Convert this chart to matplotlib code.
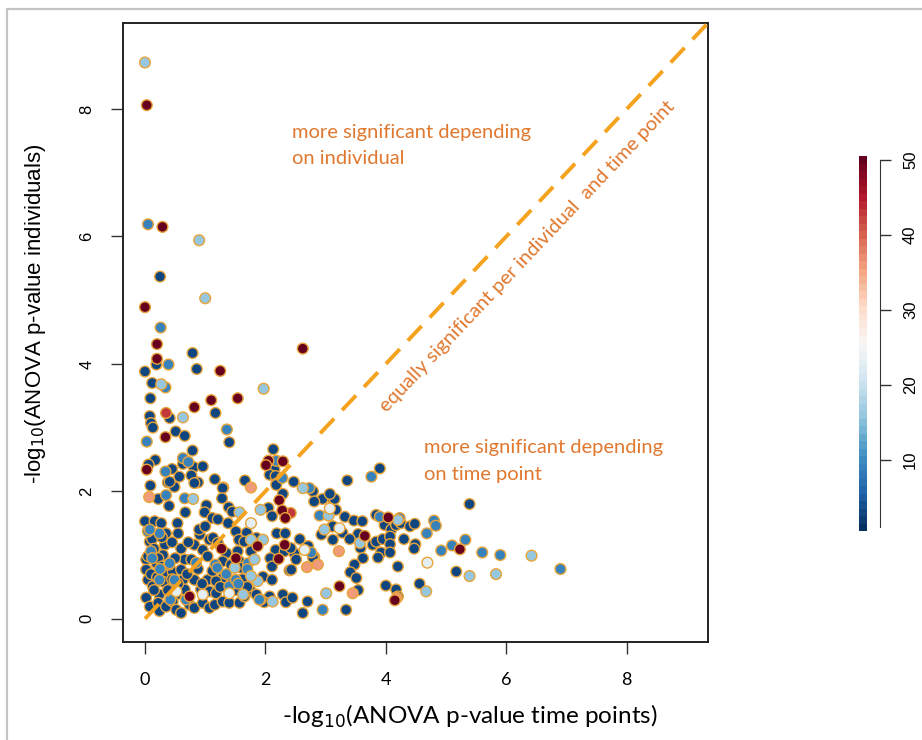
import numpy as np
import matplotlib
matplotlib.use("Agg")
import matplotlib.pyplot as plt

# ---------------- data (x = -log10 p time points, y = -log10 p individuals) -------------
navy_x = [0.25, 0.19, 0.79, 0.86, 0.0, 0.12, 0.09, 1.17, 0.41, 0.08, 0.10, 0.13, 0.51, 0.66, 1.40,
          0.79, 2.13, 0.17, 0.06, 0.45, 0.63, 0.81, 0.96, 0.57, 0.77, 0.88, 0.38, 1.16, 1.30, 0.49,
          1.66, 2.15, 2.07, 2.17, 2.18, 2.47,
          0.09, 0.41, 0.82, 1.29, 2.18, 2.79, 0.22, 1.28, 2.29, 2.95, 3.12, 0.40, 1.02, 1.39, 0.99,
          0.67, 1.45, 2.05, 2.81, 3.17, 1.12, 1.21, 2.11, 0.0, 0.16, 0.27, 0.54, 1.38, 0.35, 0.55,
          1.51, 1.69, 2.19, 2.33, 3.11, 0.08, 0.33, 0.82, 0.91, 1.07, 1.13, 1.21, 1.56, 1.65, 1.85,
          1.35, 1.54, 1.76, 2.17, 2.32, 2.48, 0.19, 0.02, 0.30, 0.19, 0.66, 0.77, 0.96, 1.04, 1.29,
          1.43, 1.57, 2.08, 2.51, 2.81, 1.60, 0.02, 0.35, 0.46, 0.60, 0.05, 0.63, 0.82, 1.04, 1.29,
          1.18, 1.96, 2.11, 2.40, 2.11, 0.13, 0.41, 0.66, 0.93, 1.07, 1.18, 1.76, 0.24, 0.52, 0.02,
          2.07, 2.29, 0.08, 0.22, 0.24, 0.35, 0.46, 0.52, 0.60, 0.74, 0.82, 0.96, 1.07, 1.16, 1.29,
          1.40, 1.57, 1.65, 1.98, 2.34, 2.45, 2.70, 2.62,
          3.90, 3.36, 5.39, 3.15, 3.32, 3.47, 3.61, 3.12, 3.84, 3.98, 4.09, 4.17, 4.25, 4.40, 4.48,
          3.28, 3.54, 3.40, 3.12, 3.78, 3.84, 3.95, 4.07, 4.07, 4.30, 4.49, 4.47, 3.58, 3.62, 3.92,
          4.07, 3.87, 3.48, 3.41, 3.51, 4.20, 5.17, 4.00, 4.17, 4.20, 4.56, 3.54, 3.34, 3.07, 2.93,
          2.71, 2.57, 2.42, 2.79, 2.43,
          0.05, 0.12, 0.15, 0.05, 0.22, 0.28, 0.10, 0.20, 0.15, 0.30, 0.38, 0.45, 0.55, 0.70, 0.88,
          0.95, 1.12, 1.25, 1.45, 1.50, 1.62, 1.70, 1.85, 1.92, 0.40, 0.50, 0.60, 0.72, 0.90, 1.00,
          0.28, 0.45]
navy_y = [5.37, 3.99, 4.17, 3.92, 3.88, 3.70, 3.46, 3.23, 3.15, 3.18, 3.07, 3.00, 2.94, 2.87, 2.77,
          2.64, 2.66, 2.49, 2.42, 2.35, 2.43, 2.38, 2.39, 2.23, 2.25, 2.14, 2.14, 2.19, 2.06, 2.07,
          2.17, 2.34, 2.26, 2.24, 2.12, 2.15,
          2.09, 2.15, 2.13, 2.05, 2.10, 2.00, 1.88, 1.89, 1.96, 1.88, 1.88, 1.77, 1.78, 1.75, 1.67,
          1.67, 1.68, 1.74, 1.84, 1.71, 1.58, 1.56, 1.61, 1.53, 1.53, 1.50, 1.50, 1.50, 1.34, 1.34,
          1.37, 1.35, 1.34, 1.34, 1.45, 1.21, 1.16, 1.16, 1.32, 1.24, 1.27, 1.19, 1.24, 1.21, 1.27,
          1.03, 1.06, 1.06, 1.08, 1.06, 1.03, 1.03, 0.93, 1.00, 0.87, 0.93, 0.93, 1.08, 0.98, 0.90,
          0.85, 0.90, 0.95, 0.93, 0.97, 0.80, 0.77, 0.72, 0.74, 0.77, 0.61, 0.61, 0.61, 0.61, 0.64,
          0.59, 0.66, 0.61, 0.76, 0.82, 0.51, 0.51, 0.46, 0.46, 0.43, 0.40, 0.43, 0.38, 0.38, 0.33,
          0.35, 0.38, 0.19, 0.25, 0.12, 0.19, 0.27, 0.14, 0.09, 0.22, 0.17, 0.25, 0.17, 0.22, 0.27,
          0.25, 0.25, 0.35, 0.26, 0.26, 0.33, 0.27, 0.09,
          2.36, 2.17, 1.80, 1.88, 1.60, 1.54, 1.53, 1.45, 1.63, 1.47, 1.40, 1.47, 1.50, 1.45, 1.49,
          1.35, 1.33, 1.25, 1.24, 1.16, 1.21, 1.25, 1.29, 1.17, 1.25, 1.17, 1.10, 1.11, 0.95, 1.04,
          1.04, 0.96, 0.85, 0.73, 0.64, 0.82, 0.74, 0.52, 0.46, 0.35, 0.55, 0.45, 0.14, 1.96, 1.32,
          1.14, 1.25, 1.11, 0.96, 0.77,
          1.38, 1.25, 1.10, 0.98, 0.95, 0.82, 0.70, 0.65, 0.45, 0.58, 0.45, 0.62, 0.55, 0.70, 0.78,
          0.55, 0.75, 0.50, 0.60, 0.45, 0.62, 0.50, 0.38, 0.30, 0.85, 0.95, 1.10, 1.20, 1.40, 1.45,
          1.28, 1.20]

blue_x = [0.05, 0.26, 0.39, 0.34, 1.36, 0.03, 0.34, 0.63, 0.72, 2.18, 2.28, 2.73, 0.35, 0.66, 2.90,
          2.76, 0.05, 0.24, 1.71, 1.17, 0.41, 0.24, 0.49, 1.40, 1.51, 1.90, 2.95, 0.10,
          3.76, 3.90, 4.23, 4.80, 4.83, 4.68, 4.92, 5.10, 5.32, 5.60, 5.90, 6.90,
          0.12, 0.25, 0.42, 0.68, 1.20, 1.35, 1.55, 1.70, 0.08, 0.85]
blue_y = [6.19, 4.57, 3.99, 3.63, 2.97, 2.78, 2.31, 2.52, 2.46, 2.48, 2.21, 2.05, 1.94, 1.89, 1.62,
          1.04, 1.37, 1.34, 0.87, 0.85, 0.87, 0.61, 0.61, 0.51, 0.61, 0.30, 0.14, 1.06,
          2.23, 1.60, 1.58, 1.54, 1.46, 1.34, 1.07, 1.15, 1.24, 1.04, 1.00, 0.78,
          0.95, 0.78, 0.30, 0.30, 0.80, 0.70, 0.55, 0.78, 1.40, 0.88]

light_x = [0.00, 0.90, 1.00, 1.97, 0.63, 0.27, 0.80, 1.57, 1.92, 2.62, 3.05, 2.98, 3.01, 1.49, 1.87,
           1.76, 1.96, 1.76, 1.82, 1.63, 3.57, 4.67, 5.39, 5.83, 6.42, 4.20, 2.12]
light_y = [8.73, 5.94, 5.03, 3.61, 3.16, 3.68, 1.88, 1.67, 1.71, 2.05, 1.62, 1.40, 0.40, 0.80, 0.59,
           0.67, 1.24, 1.24, 0.93, 0.38, 1.19, 0.43, 0.67, 0.70, 0.99, 1.55, 0.27]

pale_x = [2.65, 1.76, 1.40, 3.23, 3.07, 4.69, 0.52, 0.96]
pale_y = [1.08, 1.50, 0.40, 1.42, 1.73, 0.88, 0.43, 0.38]

peach_x = [0.07, 1.76, 3.22, 2.69, 2.87, 3.45, 4.18]
peach_y = [1.91, 2.06, 1.06, 0.81, 0.85, 0.40, 0.33]

red_x = [0.35, 2.42]
red_y = [3.23, 1.66]

darkred_x = [0.03, 0.29, 0.00, 0.20, 0.20, 1.25, 2.62, 1.10, 1.54, 0.82, 0.34, 0.03, 2.05, 2.29, 2.01,
             2.23, 2.28, 2.33, 3.23, 2.32, 2.22, 1.87, 1.51, 1.27, 0.74, 4.04, 3.65, 5.23, 4.15]
darkred_y = [8.06, 6.15, 4.89, 4.31, 4.08, 3.89, 4.24, 3.43, 3.46, 3.32, 2.85, 2.34, 2.48, 2.47, 2.41,
             1.86, 1.70, 1.58, 0.51, 1.16, 0.94, 1.14, 0.95, 1.10, 0.35, 1.59, 1.30, 1.09, 0.29]

group_scores = [3, 9, 16, 23, 36, 43, 50]
groups = [(navy_x, navy_y), (blue_x, blue_y), (light_x, light_y), (pale_x, pale_y),
          (peach_x, peach_y), (red_x, red_y), (darkred_x, darkred_y)]

cbar_values = list(range(1, 51))
cbar_ticks = [10, 20, 30, 40, 50]
x_ticks = [0, 2, 4, 6, 8]
y_ticks = [0, 2, 4, 6, 8]

# ---------------- figure ----------------
W, H = 922, 740
fig = plt.figure(figsize=(W / 100, H / 100), dpi=100)

def px_axes(left, top, right, bottom, **kw):
    return fig.add_axes([left / W, 1 - bottom / H, (right - left) / W, (bottom - top) / H], **kw)

# screenshot-like border
border = fig.add_axes([0, 0, 1, 1], zorder=-5)
border.set_axis_off()
border.set_xlim(0, W); border.set_ylim(H, 0)
border.plot([7, 7, W], [H, 9, 9], color="#c4c4c4", lw=1.6)

cmap = plt.get_cmap("RdBu_r", 50)
norm = matplotlib.colors.Normalize(vmin=0.5, vmax=50.5)

ax = px_axes(123, 23, 708, 642)
ax.set_xlim(-0.365, 9.35)
ax.set_ylim(-0.365, 9.35)

xs, ys, cs = [], [], []
for (gx, gy), sc in zip(groups, group_scores):
    xs += list(gx); ys += list(gy); cs += [sc] * len(gx)

ax.scatter(xs, ys, c=cs, cmap=cmap, norm=norm, s=60, edgecolors="#E9A43A",
           linewidths=1.0, zorder=3)

ax.plot([0, 10], [0, 10], color="#F5A21F", lw=2.8, dashes=(5.2, 3.0), zorder=4)

ann_color = "#E0782F"
ann_font = "Lato"
afs = 14.5
ax.text(2.44, 7.63, "more significant depending", color=ann_color, fontsize=afs,
        family=ann_font, ha="left", va="center")
ax.text(2.44, 7.23, "on individual", color=ann_color, fontsize=afs,
        family=ann_font, ha="left", va="center")
ax.text(4.64, 2.68, "more significant depending", color=ann_color, fontsize=afs,
        family=ann_font, ha="left", va="center")
ax.text(4.64, 2.27, "on time point", color=ann_color, fontsize=afs,
        family=ann_font, ha="left", va="center")
ax.text(6.35, 5.69, "equally significant per individual  and time point", color=ann_color,
        fontsize=afs, family=ann_font, ha="center", va="center", rotation=46.6,
        rotation_mode="anchor")

ax.set_xticks(x_ticks)
ax.set_yticks(y_ticks)
ax.set_xticklabels([str(t) for t in x_ticks], family="Lato", fontsize=13)
ax.set_yticklabels([str(t) for t in y_ticks], family="Liberation Sans", fontsize=12,
                   rotation=90, va="center")
ax.tick_params(axis="both", length=8.5, width=1.0, color="#333333", direction="out")
ax.tick_params(axis="x", pad=13)
ax.tick_params(axis="y", pad=12)
for s in ax.spines.values():
    s.set_linewidth(1.4)
    s.set_color("#222222")

ax.set_xlabel(r"-log$_{10}$(ANOVA p-value time points)", family="Lato", fontsize=17.5)
ax.xaxis.label.set_va("center")
ax.xaxis.set_label_coords(0.593, -0.121)
ax.set_ylabel(r"-log$_{10}$(ANOVA p-value individuals)", family="Liberation Sans",
              fontsize=16)
ax.yaxis.label.set_va("center")
ax.yaxis.set_label_coords(-0.150, 0.53)

# colour bar (discrete blocks)
cax = px_axes(859, 156, 867, 531)
cvals = np.array(cbar_values)
edges = np.concatenate([cvals - 0.5, [cvals[-1] + 0.5]])
cax.pcolormesh([0, 1], edges, cvals.reshape(-1, 1), cmap=cmap, norm=norm)
cax.set_xlim(0, 1); cax.set_ylim(0.5, 50.5)
cax.set_axis_off()

lax = px_axes(879, 156, 879.5, 531)
lax.set_ylim(0.5, 50.5)
lax.set_xticks([])
for k in ["top", "bottom", "left"]:
    lax.spines[k].set_visible(False)
lax.spines["right"].set_bounds(1, 50)
lax.spines["right"].set_color("#333333")
lax.yaxis.tick_right()
lax.set_yticks(cbar_ticks)
lax.set_yticklabels([str(t) for t in cbar_ticks], family="Liberation Sans", fontsize=12,
                    rotation=90, va="center")
lax.tick_params(axis="y", length=8, width=1.0, color="#333333", pad=9)

fig.savefig("out.png", dpi=100)
